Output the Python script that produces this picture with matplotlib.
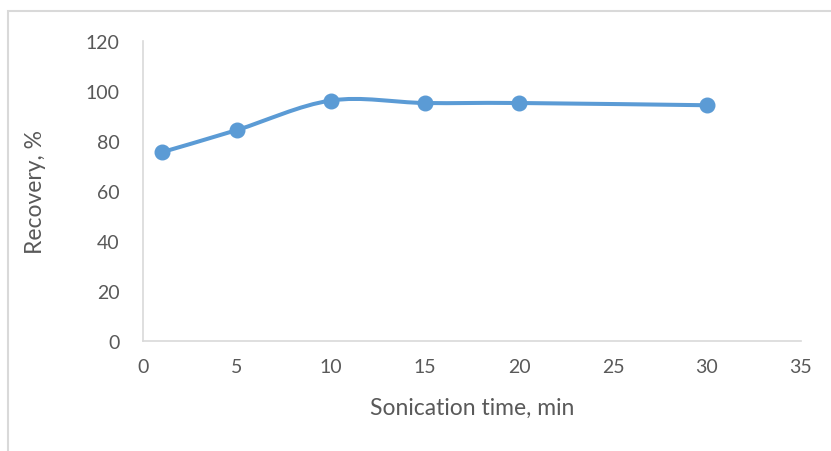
import matplotlib
matplotlib.use("Agg")
import matplotlib.pyplot as plt
from matplotlib.path import Path
from matplotlib.patches import PathPatch, Rectangle

# sonication time (min) vs recovery (%)
time_min = [1, 5, 10, 15, 20, 30]
recovery = [75.5, 84.4, 96.2, 95.2, 95.2, 94.3]
x_ticks = [0, 5, 10, 15, 20, 25, 30, 35]
y_ticks = [0, 20, 40, 60, 80, 100, 120]

blue = "#5B9BD5"
grey_txt = "#595959"
grey_line = "#D9D9D9"

plt.rcParams['font.family'] = ['Lato', 'DejaVu Sans']

fig = plt.figure(figsize=(8.31, 4.52), dpi=100)
ax = fig.add_axes([143 / 831, 1 - 342 / 452, (801 - 143) / 831, 300 / 452])

# excel-like smoothed line: bezier through the points
pts = list(zip(time_min, recovery))
verts = [pts[0]]
codes = [Path.MOVETO]
n = len(pts)
for i in range(n - 1):
    p0 = pts[i - 1] if i > 0 else pts[i]
    p1 = pts[i]
    p2 = pts[i + 1]
    p3 = pts[i + 2] if i + 2 < n else pts[i + 1]
    c1 = (p1[0] + (p2[0] - p0[0]) / 6, p1[1] + (p2[1] - p0[1]) / 6)
    c2 = (p2[0] - (p3[0] - p1[0]) / 6, p2[1] - (p3[1] - p1[1]) / 6)
    verts += [c1, c2, p2]
    codes += [Path.CURVE4] * 3
ax.add_patch(PathPatch(Path(verts, codes), facecolor="none", edgecolor=blue,
                       lw=2.9, capstyle="round", zorder=2))
ax.plot(time_min, recovery, "o", color=blue, markersize=10.5, zorder=3)

ax.set_xlim(0, 35)
ax.set_ylim(0, 120)
ax.set_xticks(x_ticks)
ax.set_yticks(y_ticks)
ax.tick_params(length=0, labelsize=14, colors=grey_txt)
ax.tick_params(axis="y", pad=17)
ax.tick_params(axis="x", pad=12)
for s in ["top", "right"]:
    ax.spines[s].set_visible(False)
for s in ["left", "bottom"]:
    ax.spines[s].set_color(grey_line)
    ax.spines[s].set_linewidth(1.2)

ax.set_xlabel("Sonication time, min", fontsize=16.5, color=grey_txt, labelpad=16)
ax.set_ylabel("Recovery, %", fontsize=16.5, color=grey_txt, labelpad=28)

# chart area border
fig.patches.append(Rectangle((8 / 831, -0.1), 1.2, 1 - 11.5 / 452 + 0.1,
                             transform=fig.transFigure, fill=False,
                             edgecolor=grey_line, lw=1.5))

fig.savefig("out.png", dpi=100)
